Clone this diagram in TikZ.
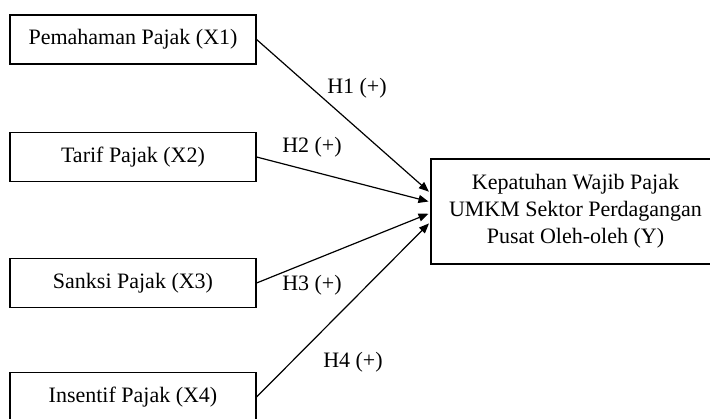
\documentclass[tikz,border=0pt]{standalone}
\usepackage{fontspec}
\setmainfont{Liberation Serif}
\usetikzlibrary{arrows.meta,positioning}

\begin{document}
\begin{tikzpicture}[x=1pt,y=-1pt,
    var/.style={draw,line width=1.2pt,minimum width=246pt,minimum height=49pt,inner sep=0pt,font=\fontsize{22}{27}\selectfont},
    hyp/.style={inner sep=0pt,font=\fontsize{22}{27}\selectfont},
    link/.style={line width=1.2pt,shorten >=2pt,-{Triangle[length=10pt,width=8pt]}}]
      \useasboundingbox (0,0) rectangle (710,419);
      \clip (0,0) rectangle (710,419);
      \node[var] (x1) at (133,39.5) {Pemahaman Pajak (X1)};
      \node[var] (x2) at (133,157) {Tarif Pajak (X2)};
      \node[var] (x3) at (133,283) {Sanksi Pajak (X3)};
      \node[var] (x4) at (133,397) {Insentif Pajak (X4)};
      \node[var,minimum width=289pt,minimum height=105pt,align=center] (y) at (575.5,211.5)
        {Kepatuhan Wajib Pajak\\UMKM Sektor Perdagangan\\Pusat Oleh-oleh (Y)};
      \draw[link] (x1.east) -- ([yshift=18.5pt]y.west);
      \draw[link] (x2.east) -- ([yshift=9.5pt]y.west);
      \draw[link] (x3.east) -- ([yshift=-1.5pt]y.west);
      \draw[link] (x4.east) -- ([yshift=-10.5pt]y.west);
      \node[hyp] (h1) at (357,88) {H1 (+)};
      \node[hyp] (h2) at (312,147) {H2 (+)};
      \node[hyp] (h3) at (312,285) {H3 (+)};
      \node[hyp] (h4) at (353,362) {H4 (+)};
    \end{tikzpicture}
\end{document}
